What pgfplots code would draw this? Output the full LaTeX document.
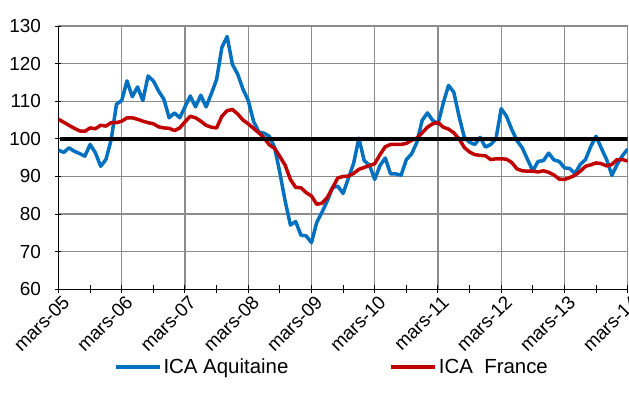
\documentclass[border=0pt]{standalone}
\usepackage{fontspec}
\setmainfont{Liberation Sans}
\usepackage{pgfplots}
\usepackage{pgfplotstable}
\pgfplotsset{compat=1.18}
\definecolor{icablue}{RGB}{0,112,192}
\definecolor{icared}{RGB}{192,0,0}
\definecolor{gridgray}{RGB}{140,140,140}
\pgfplotstableread{
m v
0 97.0
1 96.4
2 97.6
3 96.7
4 96.1
5 95.4
6 98.5
7 96.3
8 92.7
9 94.5
10 99.8
11 109.2
12 110.2
13 115.4
14 111.2
15 113.8
16 110.2
17 116.7
18 115.4
19 112.7
20 110.5
21 105.6
22 106.9
23 105.6
24 108.5
25 111.4
26 108.5
27 111.6
28 108.5
29 112.0
30 115.8
31 124.3
32 127.2
33 119.8
34 117.2
35 113.2
36 110.2
37 104.7
38 101.8
39 101.5
40 100.7
41 97.7
42 91.0
43 83.5
44 77.1
45 78.0
46 74.4
47 74.2
48 72.4
49 77.8
50 80.5
51 83.5
52 87.1
53 87.4
54 85.5
55 89.5
56 93.5
57 100.2
58 94.2
59 93.0
60 89.2
61 92.9
62 94.9
63 90.7
64 90.7
65 90.3
66 94.5
67 96.0
68 99.1
69 104.9
70 106.9
71 104.9
72 104.0
73 109.5
74 114.2
75 112.4
76 106.0
77 100.4
78 99.1
79 98.5
80 100.4
81 97.8
82 98.5
83 100.0
84 108.0
85 106.0
86 102.5
87 99.5
88 97.6
89 94.5
90 91.5
91 94.0
92 94.2
93 96.2
94 94.4
95 94.0
96 92.3
97 92.1
98 90.8
99 93.2
100 94.5
101 98.0
102 100.7
103 97.5
104 94.5
105 90.3
106 93.2
107 95.5
108 97.3
}\aquitaine
\pgfplotstableread{
m v
0 105.2
1 104.4
2 103.6
3 102.8
4 102.1
5 102.0
6 102.9
7 102.7
8 103.6
9 103.4
10 104.3
11 104.3
12 104.7
13 105.6
14 105.6
15 105.2
16 104.7
17 104.3
18 104.0
19 103.2
20 102.9
21 102.8
22 102.2
23 102.9
24 104.5
25 106.0
26 105.6
27 104.7
28 103.6
29 103.1
30 102.9
31 106.0
32 107.5
33 107.8
34 106.6
35 105.0
36 104.0
37 102.8
38 101.6
39 100.3
40 98.4
41 97.5
42 95.3
43 93.0
44 89.2
45 87.1
46 87.0
47 85.7
48 84.8
49 82.6
50 82.9
51 84.4
52 87.0
53 89.6
54 90.0
55 90.1
56 90.8
57 91.9
58 92.4
59 92.9
60 93.4
61 95.8
62 97.9
63 98.5
64 98.5
65 98.5
66 98.8
67 99.6
68 100.2
69 101.6
70 103.1
71 104.0
72 104.4
73 103.1
74 102.6
75 101.6
76 100.0
77 97.7
78 96.5
79 95.8
80 95.6
81 95.5
82 94.5
83 94.7
84 94.7
85 94.6
86 93.7
87 92.0
88 91.5
89 91.4
90 91.4
91 91.2
92 91.5
93 91.1
94 90.4
95 89.3
96 89.2
97 89.7
98 90.3
99 91.4
100 92.7
101 93.1
102 93.6
103 93.4
104 92.8
105 93.2
106 94.5
107 94.5
108 94.1
}\france
\begin{document}
\begin{tikzpicture}
\begin{axis}[name=ax, scale only axis, width=569.2bp, height=263.3bp,
  xmin=0, xmax=108, ymin=60, ymax=130,
  axis lines=left,
  axis line style={-, black, line width=1.2bp},
  xtick={0,12,...,108}, minor xtick={6,18,...,102},
  xticklabels={mars-05,mars-06,mars-07,mars-08,mars-09,mars-10,mars-11,mars-12,mars-13,mars-14},
  ytick={60,70,...,130},
  grid=major,
  major grid style={gridgray, line width=1.3bp},
  tick align=center,
  xtick style={black, line width=1bp, /pgfplots/major tick length=8bp, /pgfplots/minor tick length=8bp},
  ytick style={black, line width=1bp, /pgfplots/major tick length=6bp},
  minor tick style={black, line width=1bp},
  /pgf/number format/assume math mode=true,
  tick label style={font=\fontsize{19}{22}\selectfont},
  xticklabel style={rotate=45, anchor=north east, inner sep=1bp, xshift=1bp, yshift=-3bp},
  yticklabel style={xshift=-12bp},
  legend columns=2,
  legend style={at={(0.092,-0.295)}, anchor=west, draw=none, fill=none,
    font=\fontsize{20.5}{24}\selectfont,
    /tikz/every even column/.append style={column sep=99bp}},
  legend cell align=left,
  legend image code/.code={\draw[#1] (0bp,0bp) -- (44bp,0bp);},
]
\addplot[icablue, line width=3.5bp, line join=round] table[x=m, y=v] {\aquitaine};
\addlegendentry{ICA Aquitaine}
\addplot[icared, line width=3.5bp, line join=round] table[x=m, y=v] {\france};
\addlegendentry{ICA\ \ France}
\addplot[black, line width=4bp, forget plot] coordinates {(0.3,100) (108,100)};
\end{axis}
\pgfresetboundingbox
\path ([shift={(-58.5bp,-116.7bp)}]ax.south west) rectangle ([shift={(1.3bp,26bp)}]ax.north east);
\end{tikzpicture}
\end{document}
